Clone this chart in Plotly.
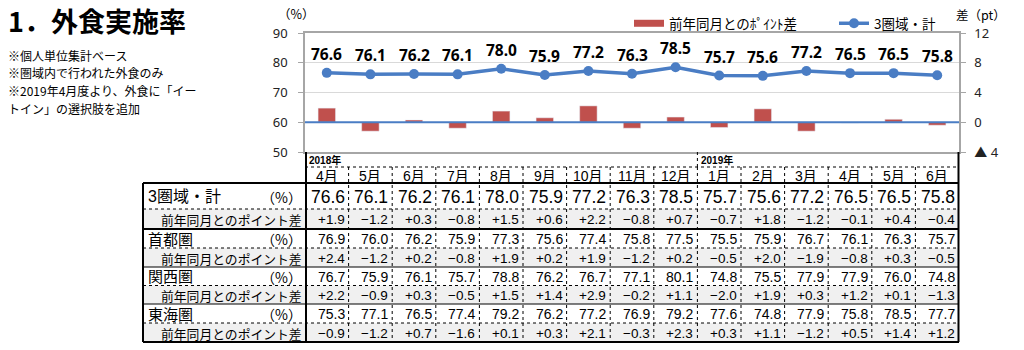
import plotly.graph_objects as go

W, H = 1024, 350

# ---------------- data ----------------
years = ["2018年"] * 9 + ["2019年"] * 6
months = ["4月", "5月", "6月", "7月", "8月", "9月", "10月", "11月", "12月",
          "1月", "2月", "3月", "4月", "5月", "6月"]
keys = [f"{y}{m}" for y, m in zip(years, months)]

total = [76.6, 76.1, 76.2, 76.1, 78.0, 75.9, 77.2, 76.3, 78.5, 75.7, 75.6, 77.2, 76.5, 76.5, 75.8]
total_diff = [1.9, -1.2, 0.3, -0.8, 1.5, 0.6, 2.2, -0.8, 0.7, -0.7, 1.8, -1.2, -0.1, 0.4, -0.4]
shutoken = [76.9, 76.0, 76.2, 75.9, 77.3, 75.6, 77.4, 75.8, 77.5, 75.5, 75.9, 76.7, 76.1, 76.3, 75.7]
shutoken_diff = [2.4, -1.2, 0.2, -0.8, 1.9, 0.2, 1.9, -1.2, 0.2, -0.5, 2.0, -1.9, -0.8, 0.3, -0.5]
kansai = [76.7, 75.9, 76.1, 75.7, 78.8, 76.2, 76.7, 77.1, 80.1, 74.8, 75.5, 77.9, 77.9, 76.0, 74.8]
kansai_diff = [2.2, -0.9, 0.3, -0.5, 1.5, 1.4, 2.9, -0.2, 1.1, -2.0, 1.9, 0.3, 1.2, 0.1, -1.3]
tokai = [75.3, 77.1, 76.5, 77.4, 79.2, 76.2, 77.2, 76.9, 79.2, 77.6, 74.8, 77.9, 75.8, 78.5, 77.7]
tokai_diff = [-0.9, -1.2, 0.7, -1.6, 0.1, 0.3, 2.1, -0.3, 2.3, 0.3, 1.1, -1.2, 0.5, 1.4, 1.2]

region_names = ["3圏域・計", "首都圏", "関西圏", "東海圏"]
region_values = [total, shutoken, kansai, tokai]
region_diffs = [total_diff, shutoken_diff, kansai_diff, tokai_diff]
diff_label = "前年同月とのポイント差"
unit_label = "（%）"

left_ticks = [50, 60, 70, 80, 90]
right_ticks = [-4, 0, 4, 8, 12]
right_ticktext = ["▲ 4", "0", "4", "8", "12"]

title_text = "1．外食実施率"
notes = ["※個人単位集計ベース", "※圏域内で行われた外食のみ",
         "※2019年4月度より、外食に「イー", "トイン」の選択肢を追加"]
legend_bar = "前年同月とのﾎﾟｲﾝﾄ差"
legend_line = "3圏域・計"

# ---------------- style ----------------
RED = "#C0504D"
BLUE = "#4A7DC4"
GRAY = "#A6A6A6"
JP = "Noto Sans CJK JP"
NUMF = "Liberation Sans, Noto Sans CJK JP"
LBLF = "Noto Sans, Noto Sans CJK JP"

PX_L, PX_R = 305.0, 959.0      # plot area x
PY_T, PY_B = 33.0, 152.0       # plot area y
COLW = (PX_R - PX_L) / len(keys)
TBL_L = 143.0
Y_YEAR_B = 167.0
Y_HEAD_B = 183.0
row_edges = [183, 209, 229, 248, 267, 285.5, 304, 323, 342]


def fx(p):
    return p / W


def fy(p):
    return 1 - p / H


def fmt_diff(v):
    return f"{v:+.1f}".replace("-", "−")


fig = go.Figure()

fig.add_trace(go.Scatter(x=[None], y=[None], mode="lines", name=legend_bar,
                         line=dict(color=RED, width=7), yaxis="y2", showlegend=True))
fig.add_trace(go.Bar(x=keys, y=total_diff, yaxis="y2", marker_color=RED,
                     width=0.4, showlegend=False, name=legend_bar))
fig.add_trace(go.Scatter(x=keys, y=total, mode="lines+markers", name=legend_line,
                         line=dict(color=BLUE, width=3.5),
                         marker=dict(size=10, color=BLUE), yaxis="y"))

annotations = []


def note(x, y, text, size, family=JP, xanchor="left", xref="paper", yref="paper", **kw):
    annotations.append(dict(x=x, y=y, xref=xref, yref=yref, text=text, showarrow=False,
                            xanchor=xanchor, yanchor="middle",
                            font=dict(family=family, size=size, color="#000"), **kw))


# data labels above line
for k, v in zip(keys, total):
    note(k, v, f"<b>{v:.1f}</b>", 15.5, family=LBLF, xanchor="center",
         xref="x", yref="y", yshift=19)

# title and notes
note(fx(6), fy(20), f"<b>{title_text}</b>", 27)
for t, yy in zip(notes, [55, 72.5, 90.5, 109]):
    note(fx(7), fy(yy), t, 12, borderpad=0)
note(fx(276), fy(13), "（%）", 12.5)
note(fx(954), fy(15), "差（pt）", 12.5)

# table header
note(keys[0], fy((PY_B + Y_YEAR_B) / 2), "<b>2018年</b>", 10, family=NUMF,
     xref="x", xshift=-COLW / 2 + 2)
note(keys[9], fy((PY_B + Y_YEAR_B) / 2), "<b>2019年</b>", 10, family=NUMF,
     xref="x", xshift=-COLW / 2 + 2)
for k, m in zip(keys, months):
    note(k, fy((Y_YEAR_B + Y_HEAD_B) / 2 + 0.5), m, 14, family=NUMF, xanchor="center", xref="x")

# table body
for r, (name, vals, diffs) in enumerate(zip(region_names, region_values, region_diffs)):
    top, mid, bot = row_edges[2 * r], row_edges[2 * r + 1], row_edges[2 * r + 2]
    yc1 = fy((top + mid) / 2 + 0.5)
    yc2 = fy((mid + bot) / 2 + 0.5)
    big = (r == 0)
    note(fx(146), yc1, name, 16 if big else 15, family=NUMF)
    note(fx(304), yc1, unit_label, 14, xanchor="right")
    note(fx(304), yc2, diff_label, 12.8, xanchor="right")
    for k, v, d in zip(keys, vals, diffs):
        note(k, yc1, f"{v:.1f}", 17.5 if big else 14, family=NUMF, xanchor="right",
             xref="x", xshift=COLW / 2 - 2)
        note(k, yc2, fmt_diff(d), 13.5, family=NUMF, xanchor="right",
             xref="x", xshift=COLW / 2 - 2)

shapes = []
# gray backgrounds for diff rows
for r in range(4):
    shapes.append(dict(type="rect", xref="paper", yref="paper", layer="below",
                       x0=fx(TBL_L), x1=fx(PX_R), y0=fy(row_edges[2 * r + 1]), y1=fy(row_edges[2 * r + 2]),
                       fillcolor="#F0F0F0", line=dict(width=0)))
# zero line of difference axis
shapes.append(dict(type="line", xref="x domain", yref="y2", x0=0, x1=1, y0=0, y1=0,
                   line=dict(color=BLUE, width=2), layer="above"))


def hline(y, x0, x1, width=1, dash="solid"):
    shapes.append(dict(type="line", xref="paper", yref="paper", x0=fx(x0), x1=fx(x1),
                       y0=fy(y), y1=fy(y), line=dict(color="#000", width=width, dash=dash)))


def vline(x, y0, y1, width=1, dash="solid"):
    shapes.append(dict(type="line", xref="paper", yref="paper", x0=fx(x), x1=fx(x),
                       y0=fy(y0), y1=fy(y1), line=dict(color="#000", width=width, dash=dash)))


# header lines
hline(Y_YEAR_B, PX_L, PX_R, 1, "dot")
vline(PX_L + 9 * COLW, PY_B, Y_YEAR_B, 1, "dot")
for i in range(1, len(keys)):
    vline(PX_L + i * COLW, Y_YEAR_B, row_edges[-1], 1, "dot")
# body horizontal lines
hline(row_edges[0], TBL_L, PX_R, 2)
for i in range(1, 8):
    if i % 2 == 1:
        hline(row_edges[i], TBL_L, PX_R, 1, "dot")
    elif i == 2:
        hline(row_edges[i], TBL_L, PX_R, 2)
    else:
        hline(row_edges[i], TBL_L, PX_R, 1)
hline(row_edges[-1], TBL_L, PX_R, 2)
# vertical borders
vline(TBL_L, row_edges[0], row_edges[-1], 2)
vline(PX_L + 1, PY_B, row_edges[-1], 2)
vline(PX_R - 0.5, PY_B, row_edges[-1], 2)

fig.update_layout(
    width=W, height=H,
    margin=dict(l=0, r=0, t=0, b=0, autoexpand=False),
    paper_bgcolor="white", plot_bgcolor="white",
    xaxis=dict(domain=[fx(PX_L), fx(PX_R)], type="category", categoryorder="array",
               categoryarray=keys, range=[-0.5, len(keys) - 0.5], automargin=False,
               showticklabels=False, showgrid=False, showline=True, mirror=True,
               linecolor=GRAY, linewidth=1.5, ticks=""),
    yaxis=dict(domain=[fy(PY_B), fy(PY_T)], range=[50, 90], tickvals=left_ticks,
               automargin=False,
               showgrid=True, gridcolor="#D9D9D9", gridwidth=1, showline=True,
               linecolor=GRAY, linewidth=1.5, ticks="outside", ticklen=5, tickcolor=GRAY,
               ticklabelstandoff=8,
               tickfont=dict(family=LBLF, size=13, color="#222"), zeroline=False),
    yaxis2=dict(overlaying="y", side="right", range=[-4, 12], tickvals=right_ticks,
                automargin=False,
                ticktext=right_ticktext, showgrid=False, showline=True, linecolor=GRAY,
                linewidth=1.5, ticks="outside", ticklen=5, tickcolor=GRAY,
                ticklabelstandoff=6,
                tickfont=dict(family=LBLF, size=13, color="#222"), zeroline=False),
    legend=dict(orientation="h", x=fx(629), y=fy(8), xanchor="left", yanchor="top",
                font=dict(family=JP, size=13.5, color="#000"), bgcolor="rgba(0,0,0,0)",
                traceorder="normal", entrywidthmode="pixels", entrywidth=160),
    annotations=annotations,
    shapes=shapes,
    showlegend=True,
)

fig.write_html("out.html")
